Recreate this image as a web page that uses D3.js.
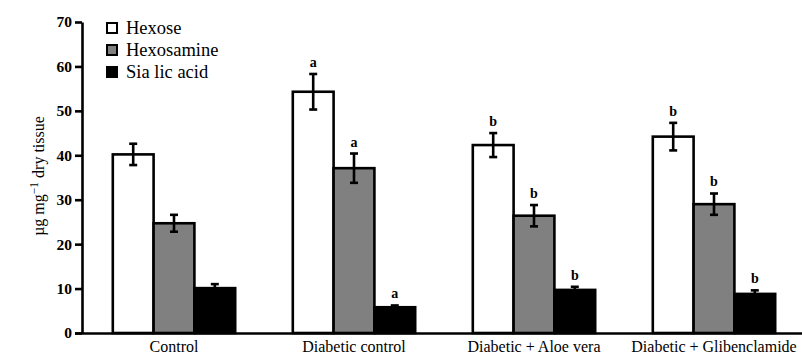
<!DOCTYPE html>
<html>
<head>
<meta charset="utf-8">
<script src="https://cdn.jsdelivr.net/npm/d3@7"></script>
<style>
html,body{margin:0;padding:0;background:#fff;}
svg{display:block;}
svg text{font-family:"Liberation Serif","Times New Roman","DejaVu Serif",serif;}
</style>
</head>
<body>
<svg id="chart" width="802" height="356"></svg>
<script>
const categories = ["Control", "Diabetic control", "Diabetic + Aloe vera", "Diabetic + Glibenclamide"];
const seriesNames = ["Hexose", "Hexosamine", "Sia lic acid"];
const hexose = [40.2, 54.3, 42.3, 44.2];
const hexoseErr = [2.4, 4.0, 2.7, 3.1];
const hexosamine = [24.7, 37.1, 26.4, 29.0];
const hexosamineErr = [1.9, 3.3, 2.4, 2.4];
const sialic = [10.1, 5.8, 9.7, 8.8];
const sialicErr = [0.9, 0.4, 0.7, 0.8];
const hexoseSig = ["", "a", "b", "b"];
const hexosamineSig = ["", "a", "b", "b"];
const sialicSig = ["", "a", "b", "b"];
const yTicks = [0, 10, 20, 30, 40, 50, 60, 70];

const fills = ["#ffffff", "#808080", "#000000"];
const series = [
  {name: seriesNames[0], vals: hexose, err: hexoseErr, sig: hexoseSig},
  {name: seriesNames[1], vals: hexosamine, err: hexosamineErr, sig: hexosamineSig},
  {name: seriesNames[2], vals: sialic, err: sialicErr, sig: sialicSig}
];

const svg = d3.select("#chart");
const axisX = 82, baseY = 333, topY = 22;

const y = d3.scaleLinear().domain([0, 70]).range([baseY, topY]);
const x0 = d3.scaleBand().domain(categories).range([84, 804]).paddingInner(0.32).paddingOuter(0.16);
const x1 = d3.scaleBand().domain(seriesNames).range([0, x0.bandwidth()]).padding(0);

// bars
const groups = svg.append("g").selectAll("g").data(categories).join("g")
  .attr("transform", d => `translate(${x0(d)},0)`);

groups.each(function(cat, ci) {
  const g = d3.select(this);
  series.forEach((s, si) => {
    const v = s.vals[ci];
    const bx = x1(s.name);
    const bw = x1.bandwidth();
    g.append("rect")
      .attr("x", bx).attr("y", y(v))
      .attr("width", bw).attr("height", y(0) - y(v))
      .attr("fill", fills[si]).attr("stroke", "#000").attr("stroke-width", 2.6);
    const cx = bx + bw / 2;
    const e = s.err[ci];
    const capW = 4;
    const eb = g.append("g").attr("stroke", "#000").attr("stroke-width", 2.6);
    eb.append("line").attr("x1", cx).attr("x2", cx).attr("y1", y(v + e)).attr("y2", y(v - e));
    eb.append("line").attr("x1", cx - capW).attr("x2", cx + capW).attr("y1", y(v + e)).attr("y2", y(v + e));
    eb.append("line").attr("x1", cx - capW).attr("x2", cx + capW).attr("y1", y(v - e)).attr("y2", y(v - e));
    if (s.sig[ci]) {
      g.append("text").attr("x", cx).attr("y", y(v + e) - 7)
        .attr("text-anchor", "middle")
        .attr("font-weight", "bold").attr("font-size", 14)
        .text(s.sig[ci]);
    }
  });
});

// y axis
const yAxis = d3.axisLeft(y).tickValues(yTicks).tickSize(7).tickSizeOuter(0).tickPadding(3);
const ya = svg.append("g").attr("transform", `translate(${axisX},0)`).call(yAxis);
ya.attr("font-family", null);
ya.select(".domain").attr("stroke", "#000").attr("stroke-width", 2.6);
ya.selectAll(".tick line").attr("stroke", "#000").attr("stroke-width", 2.6);
ya.selectAll(".tick text").attr("font-weight", "bold")
  .attr("font-size", 15.5).attr("fill", "#000");

// x axis
const xAxis = d3.axisBottom(x0).tickSize(0).tickPadding(8);
const xa = svg.append("g").attr("transform", `translate(0,${baseY})`).call(xAxis);
xa.attr("font-family", null);
xa.select(".domain").attr("d", `M${axisX - 7},0.5H802`).attr("stroke", "#000").attr("stroke-width", 2.6);
xa.selectAll(".tick text").attr("font-size", 16).attr("fill", "#000");

// y label
const yl = svg.append("text")
  .attr("transform", "translate(44,176) rotate(-90)")
  .attr("text-anchor", "middle")
  .attr("font-size", 16).attr("fill", "#000");
yl.append("tspan").text("\u00b5g mg");
yl.append("tspan").attr("dy", -6).attr("font-size", 11.5).text("\u22121");
yl.append("tspan").attr("dy", 6).text(" dry tissue");

// legend
const legend = svg.append("g").selectAll("g").data(series).join("g")
  .attr("transform", (d, i) => `translate(107,${28 + i * 22})`);
legend.append("rect").attr("x", 0).attr("y", -5).attr("width", 10).attr("height", 10)
  .attr("fill", (d, i) => fills[i]).attr("stroke", "#000").attr("stroke-width", 2);
legend.append("text").attr("x", 19).attr("y", 6)
  .attr("font-size", 18.5).attr("fill", "#000")
  .text(d => d.name);
</script>
</body>
</html>
